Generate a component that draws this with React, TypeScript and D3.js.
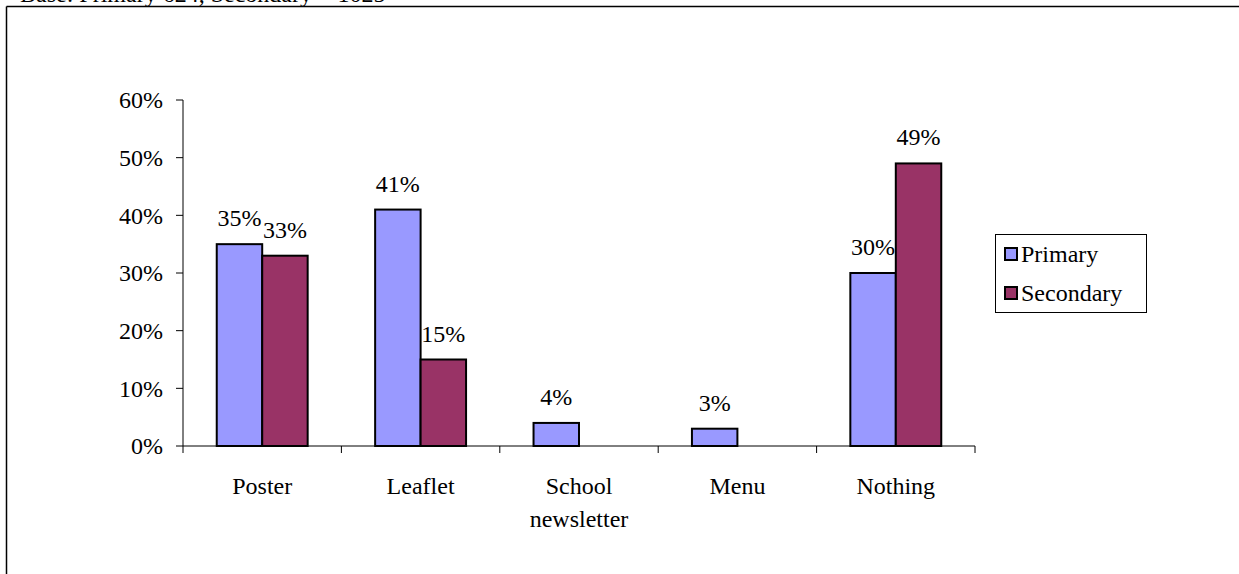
import React from "react";
import * as d3 from "d3";

const categories = ["Poster", "Leaflet", "School\nnewsletter", "Menu", "Nothing"];
const seriesNames = ["Primary", "Secondary"];
const primaryValues = [35, 41, 4, 3, 30];
const secondaryValues = [33, 15, null, null, 49];
const yTicks = [0, 10, 20, 30, 40, 50, 60];
const colors = ["#9999ff", "#993366"];

export default function App() {
  const W = 1239, H = 574;
  const x0 = 183, x1 = 975, yTop = 100, yBot = 446;
  const y = d3.scaleLinear().domain([0, 60]).range([yBot, yTop]);
  const xb = d3.scaleBand().domain(categories).range([x0, x1]).paddingInner(0.426).paddingOuter(0.213);
  const bw = xb.bandwidth() / 2;
  const font = "'Times New Roman', 'Liberation Serif', serif";
  const fs = 24;
  const series = [primaryValues, secondaryValues];
  const tickXs = d3.range(categories.length + 1).map(i => x0 + (i * (x1 - x0)) / categories.length);
  return (
    <svg width={W} height={H} style={{ position: "absolute", left: 0, top: 0, fontFamily: font }}>
      <rect x={0} y={0} width={W} height={H} fill="#fff" />
      <text x={20} y={2} fontSize={fs} fill="#000">Base: Primary 624, Secondary = 1025</text>
      <line x1={6.5} y1={6.5} x2={W} y2={6.5} stroke="#000" strokeWidth={1.5} />
      <line x1={6.5} y1={6.5} x2={6.5} y2={H} stroke="#000" strokeWidth={1.5} />
      {/* y axis */}
      <line x1={x0} y1={yTop} x2={x0} y2={yBot} stroke="#000" />
      {yTicks.map(t => (
        <g key={t}>
          <line x1={x0 - 7} x2={x0} y1={y(t)} y2={y(t)} stroke="#000" />
          <text x={x0 - 20} y={y(t)} dy="0.35em" textAnchor="end" fontSize={fs}>{t}%</text>
        </g>
      ))}
      {/* bars */}
      {categories.map((c, ci) =>
        series.map((s, si) => {
          const v = s[ci];
          if (v == null) return null;
          const bx = (xb(c) as number) + si * bw;
          return (
            <g key={c + si}>
              <rect x={bx} y={y(v)} width={bw} height={yBot - y(v)} fill={colors[si]} stroke="#000" strokeWidth={2} />
              <text x={bx + bw / 2} y={y(v) - 18} textAnchor="middle" fontSize={fs}>{v}%</text>
            </g>
          );
        })
      )}
      {/* x axis */}
      <line x1={x0} y1={yBot} x2={x1} y2={yBot} stroke="#000" />
      {tickXs.map((tx, i) => (
        <line key={i} x1={tx} x2={tx} y1={yBot} y2={yBot + 7} stroke="#000" />
      ))}
      {categories.map(c => {
        const cx = (xb(c) as number) + xb.bandwidth() / 2;
        return (
          <text key={c} x={cx} y={494} textAnchor="middle" fontSize={fs}>
            {c.split("\n").map((l, i) => (
              <tspan key={i} x={cx} dy={i === 0 ? 0 : 33}>{l}</tspan>
            ))}
          </text>
        );
      })}
      {/* legend */}
      <rect x={995.5} y={234.5} width={151} height={78} fill="#fff" stroke="#000" />
      {seriesNames.map((n, i) => (
        <g key={n}>
          <rect x={1005} y={248 + i * 39} width={12} height={12} fill={colors[i]} stroke="#000" strokeWidth={2} />
          <text x={1021} y={254 + i * 39} dy="0.35em" fontSize={fs}>{n}</text>
        </g>
      ))}
    </svg>
  );
}
